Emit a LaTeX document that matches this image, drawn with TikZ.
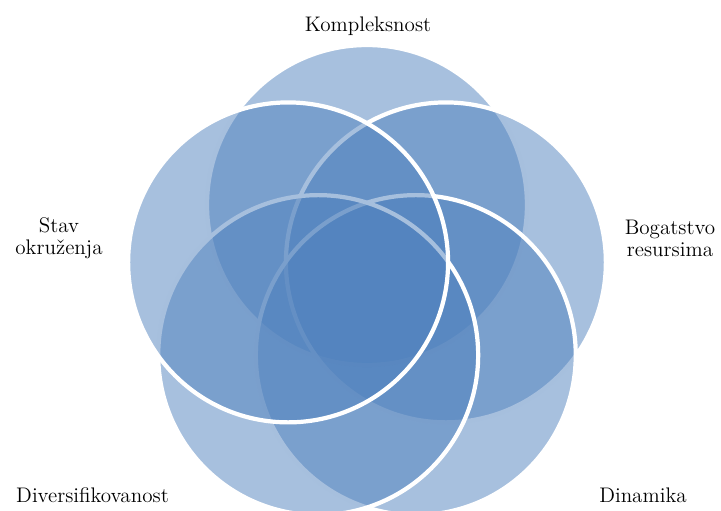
\documentclass[tikz,border=0pt]{standalone}
\usepackage{tikz}

\definecolor{vennblue}{RGB}{79,129,189}
\tikzset{
  venn/.style={circle,minimum size=6.4cm,fill=vennblue,fill opacity=0.5,draw=white,line width=2.4pt},
  lbl/.style={font=\fontsize{12}{12.5}\selectfont,align=center}
}

\begin{document}
\begin{tikzpicture}[x=0.02cm,y=0.02cm]
\useasboundingbox (0,0) rectangle (721,511);

\node[venn] (komp) at (367,306) {};
\node[venn] (bogat) at (445.9,248.6) {};
\node[venn] (dinam) at (415.8,155.9) {};
\node[venn] (divers) at (318.2,155.9) {};
\node[venn] (stav) at (288.1,248.6) {};

\node[lbl,anchor=base] (lkomp) at (368,479) {Kompleksnost};
\node[lbl] (lbogat) at (670,272.5) {Bogatstvo\\resursima};
\node[lbl,anchor=base] (ldinam) at (643,9) {Dinamika};
\node[lbl,anchor=base] (ldivers) at (92.5,9) {Diversifikovanost};
\node[lbl] (lstav) at (59,272.5) {Stav\\okruženja};
\end{tikzpicture}
\end{document}
